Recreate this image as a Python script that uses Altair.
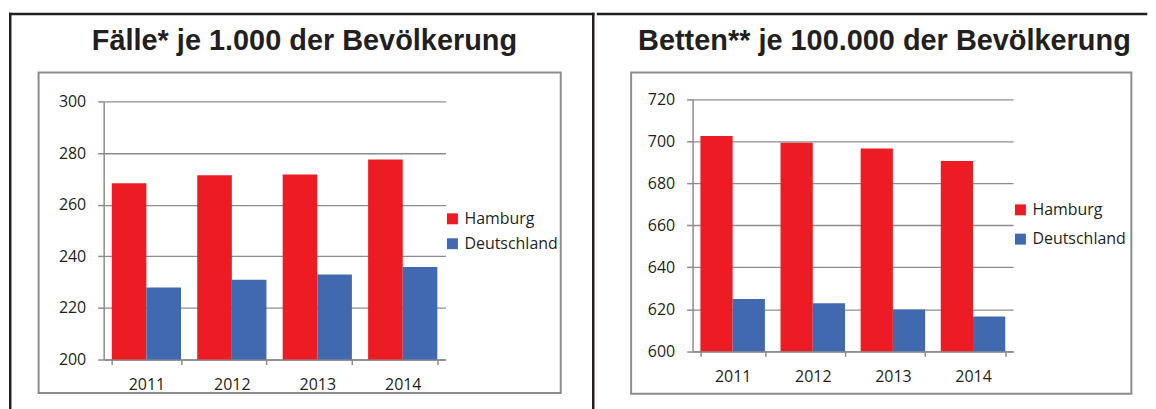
import altair as alt
import pandas as pd

# ---------------- data ----------------
YEARS = ["2011", "2012", "2013", "2014"]
SERIES = ["Hamburg", "Deutschland"]
COLORS = ["#ED1C24", "#4169AF"]

FAELLE_HAMBURG = [268.3, 271.4, 271.7, 277.5]
FAELLE_DEUTSCHLAND = [227.9, 230.9, 232.9, 235.8]
BETTEN_HAMBURG = [702.5, 699.3, 696.5, 690.6]
BETTEN_DEUTSCHLAND = [624.9, 622.8, 619.9, 616.5]

TITLE_LEFT = "Fälle* je 1.000 der Bevölkerung"
TITLE_RIGHT = "Betten** je 100.000 der Bevölkerung"

TICKS_LEFT = [200, 220, 240, 260, 280, 300]
TICKS_RIGHT = [600, 620, 640, 660, 680, 700, 720]

TEXT_COLOR = "#231f20"
GRAY = "#8c8c8c"
BLACK = "#231f20"
FONT = "Open Sans"


def long_table(hamburg, deutschland):
    rows = []
    for i, y in enumerate(YEARS):
        rows.append({"year": y, "series": SERIES[0], "value": hamburg[i]})
        rows.append({"year": y, "series": SERIES[1], "value": deutschland[i]})
    return pd.DataFrame(rows)


ONE = pd.DataFrame({"k": [0]})


def solid(x, x2, y, y2, color):
    # filled rectangle without stroke (exact bounds)
    return alt.Chart(ONE).mark_rect(color=color, strokeWidth=0).encode(
        x=alt.value(x), x2=alt.value(x2), y=alt.value(y), y2=alt.value(y2)
    )


def box(x, x2, y, y2, color, width):
    return alt.Chart(ONE).mark_rect(
        fillOpacity=0, stroke=color, strokeWidth=width
    ).encode(x=alt.value(x), x2=alt.value(x2), y=alt.value(y), y2=alt.value(y2))


def panel(hamburg, deutschland, title, ticks, width, height, yrange, pad_inner,
          legend_x, legend_y, row_padding, title_x, title_y, frames):
    df = long_table(hamburg, deutschland)
    bars = alt.Chart(df).mark_bar().encode(
        x=alt.X(
            "year:N", sort=YEARS,
            scale=alt.Scale(paddingInner=pad_inner, paddingOuter=pad_inner / 2),
            axis=alt.Axis(title=None, labelAngle=0, tickBand="extent"),
        ),
        xOffset=alt.XOffset(
            "series:N", sort=SERIES,
            scale=alt.Scale(paddingInner=0, paddingOuter=0),
        ),
        y=alt.Y(
            "value:Q",
            scale=alt.Scale(domain=[ticks[0], ticks[-1]], zero=False, nice=False,
                            range=yrange),
            axis=alt.Axis(title=None, values=ticks),
        ),
        y2=alt.datum(ticks[0]),
        color=alt.Color(
            "series:N", sort=SERIES,
            scale=alt.Scale(domain=SERIES, range=COLORS),
            legend=alt.Legend(
                title=None, orient="none", legendX=legend_x, legendY=legend_y,
                symbolType="square", symbolSize=121, symbolStrokeWidth=0,
                labelFont=FONT, labelFontSize=16, labelColor=TEXT_COLOR,
                labelOffset=4, rowPadding=row_padding, padding=0,
            ),
        ),
    )
    tdf = pd.DataFrame({"title": [title]})
    ttl = alt.Chart(tdf).mark_text(
        font="Liberation Sans", fontWeight="bold", fontSize=29,
        color=TEXT_COLOR, align="center", baseline="alphabetic",
    ).encode(x=alt.value(title_x), y=alt.value(title_y), text="title:N")
    return alt.layer(*frames, bars, ttl).properties(width=width, height=height)


# left panel: plot origin at page (103, 100)
left_frames = [
    box(-65.3, 458.7, -29, 292.7, GRAY, 2),
    solid(-95, -92.5, -88.95, 309, BLACK),       # left border
    solid(-95, 492.55, -88.95, -86.45, BLACK),   # top border
    solid(490.05, 492.55, -88.95, 309, BLACK),   # divider
]
left = panel(FAELLE_HAMBURG, FAELLE_DEUTSCHLAND, TITLE_LEFT, TICKS_LEFT,
             343, 259, [259, 0], 0.19, 342, 109.8, 9, 201.5, -52, left_frames)

# right panel: plot origin at page (691.7, 100)
right_frames = [
    box(-61.7, 440.3, -29, 293.3, GRAY, 2),
    solid(-96.15, 456.3, -88.95, -86.45, BLACK),  # top border
]
right = panel(BETTEN_HAMBURG, BETTEN_DEUTSCHLAND, TITLE_RIGHT, TICKS_RIGHT,
              321.6, 250.7, [250.7, -2.3], 0.195, 321, 100.8, 13.4, 192.5, -52,
              right_frames)

chart = (
    alt.hconcat(left, right, spacing=0)
    .resolve_scale(x="independent", y="independent", color="independent",
                   xOffset="independent")
    .resolve_legend(color="independent")
    .properties(padding={"top": 3.05, "left": 0, "right": 0, "bottom": 0})
    .configure_view(stroke="transparent")
    .configure_axis(
        domainColor=GRAY, domainWidth=1.5, tickColor=GRAY, tickWidth=1.5,
        gridColor=GRAY, gridWidth=1.3, labelFont=FONT, labelFontSize=16,
        labelColor=TEXT_COLOR,
    )
    .configure_axisX(tickSize=5, labelPadding=12, grid=False)
    .configure_axisY(tickSize=6, labelPadding=12, grid=True)
)

chart.save("out.html", embed_options={"renderer": "svg", "actions": False})
